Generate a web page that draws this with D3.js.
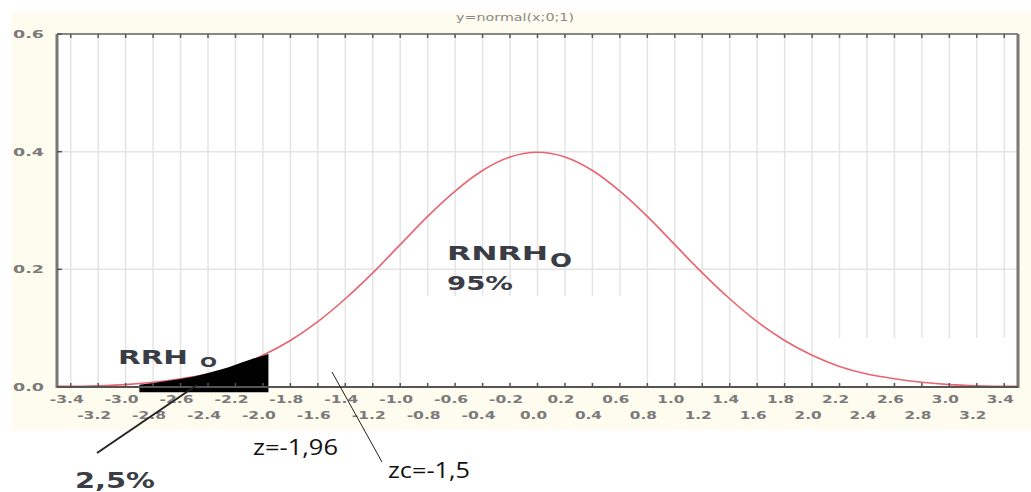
<!DOCTYPE html>
<html lang="en">
<head>
<meta charset="UTF-8">
<title>y=normal(x;0;1)</title>
<script src="https://cdn.jsdelivr.net/npm/d3@7"></script>
<style>
  body { margin: 0; background: #fff; }
  svg { display: block; }
</style>
</head>
<body>
<div id="chart"></div>
<script>
// values
const curveX = [-3.5, -3.4, -3.2, -3.0, -2.8, -2.6, -2.4, -2.2, -2.0, -1.8, -1.6, -1.4, -1.2, -1.0, -0.8, -0.6, -0.4, -0.2, 0,
                0.2, 0.4, 0.6, 0.8, 1.0, 1.2, 1.4, 1.6, 1.8, 2.0, 2.2, 2.4, 2.6, 2.8, 3.0, 3.2, 3.4, 3.5];
const curveY = [0.001, 0.001, 0.002, 0.004, 0.008, 0.014, 0.022, 0.035, 0.054, 0.079, 0.111, 0.150, 0.194, 0.242, 0.290, 0.333, 0.368, 0.391, 0.399,
                0.391, 0.368, 0.333, 0.290, 0.242, 0.194, 0.150, 0.111, 0.079, 0.054, 0.035, 0.022, 0.014, 0.008, 0.004, 0.002, 0.001, 0.001];
// the blackened left tail (rejection region)
const tailX = [-2.9, -2.7, -2.5, -2.3, -2.1, -1.96];
const tailY = [0.004, 0.010, 0.018, 0.030, 0.046, 0.056];
const xTicks = [-3.4, -3.2, -3.0, -2.8, -2.6, -2.4, -2.2, -2.0, -1.8, -1.6, -1.4, -1.2, -1.0, -0.8, -0.6, -0.4, -0.2, 0,
                0.2, 0.4, 0.6, 0.8, 1.0, 1.2, 1.4, 1.6, 1.8, 2.0, 2.2, 2.4, 2.6, 2.8, 3.0, 3.2, 3.4];
const yTicks = [0.0, 0.2, 0.4, 0.6];

const width = 1031, height = 492;
const svg = d3.select("#chart").append("svg")
    .attr("width", width)
    .attr("height", height);

const x = d3.scaleLinear().domain([-3.5, 3.5]).range([57, 1018]);
const y = d3.scaleLinear().domain([0, 0.6]).range([387, 34]);

// cream frame behind the plot
svg.append("rect")
    .attr("x", 12).attr("y", 12)
    .attr("width", width - 12).attr("height", 418)
    .attr("fill", "#fefbef");

svg.append("rect")
    .attr("x", x(-3.5)).attr("y", y(0.6))
    .attr("width", x(3.5) - x(-3.5)).attr("height", y(0) - y(0.6))
    .attr("fill", "#fff");

// grid
svg.append("g")
    .selectAll("line")
    .data(xTicks)
    .join("line")
    .attr("x1", d => x(d)).attr("x2", d => x(d))
    .attr("y1", y(0.6)).attr("y2", y(0))
    .attr("stroke", "#e4e4e4")
    .attr("stroke-width", 1.5);

svg.append("g")
    .selectAll("line")
    .data([0.2, 0.4])
    .join("line")
    .attr("x1", x(-3.5)).attr("x2", x(3.5))
    .attr("y1", d => y(d)).attr("y2", d => y(d))
    .attr("stroke", "#e4e4e4")
    .attr("stroke-width", 1.5);

// erased patches of the edited picture
const patches = [[425, 296, 220, 86], [822, 338, 190, 46]];
svg.append("g")
    .selectAll("rect")
    .data(patches)
    .join("rect")
    .attr("x", d => d[0]).attr("y", d => d[1])
    .attr("width", d => d[2]).attr("height", d => d[3])
    .attr("fill", "#fff");

// curve
const line = d3.line()
    .x((d, i) => x(curveX[i]))
    .y(d => y(d))
    .curve(d3.curveMonotoneX);

svg.append("path")
    .datum(curveY)
    .attr("d", line)
    .attr("fill", "none")
    .attr("stroke", "#e8646e")
    .attr("stroke-width", 1.6);

// black tail
const area = d3.area()
    .x((d, i) => x(tailX[i]))
    .y0(y(-0.009))
    .y1(d => y(d))
    .curve(d3.curveMonotoneX);

svg.append("path")
    .datum(tailY)
    .attr("d", area)
    .attr("fill", "#000");

// frame
const frame = svg.append("g").attr("fill", "none");
frame.append("line")
    .attr("x1", x(-3.5)).attr("x2", x(3.5))
    .attr("y1", y(0.6)).attr("y2", y(0.6))
    .attr("stroke", "#888").attr("stroke-width", 2);
frame.append("line")
    .attr("x1", x(-3.5)).attr("x2", x(-3.5))
    .attr("y1", y(0.6)).attr("y2", y(0) + 1)
    .attr("stroke", "#777").attr("stroke-width", 3);
frame.append("line")
    .attr("x1", x(3.5)).attr("x2", x(3.5))
    .attr("y1", y(0.6)).attr("y2", y(0) + 1)
    .attr("stroke", "#777").attr("stroke-width", 3);
frame.append("line")
    .attr("x1", x(-3.5)).attr("x2", x(3.5))
    .attr("y1", y(0)).attr("y2", y(0))
    .attr("stroke", "#555").attr("stroke-width", 2);

// tick marks on top and bottom
svg.append("g")
    .selectAll("line")
    .data(xTicks)
    .join("line")
    .attr("x1", d => x(d)).attr("x2", d => x(d))
    .attr("y1", y(0.6)).attr("y2", y(0.6) + 4)
    .attr("stroke", "#555").attr("stroke-width", 1.5);
svg.append("g")
    .selectAll("line")
    .data(xTicks)
    .join("line")
    .attr("x1", d => x(d)).attr("x2", d => x(d))
    .attr("y1", y(0)).attr("y2", y(0) - 4)
    .attr("stroke", "#555").attr("stroke-width", 1.5);
svg.append("g")
    .selectAll("line")
    .data(yTicks)
    .join("line")
    .attr("x1", x(-3.5)).attr("x2", x(-3.5) + 5)
    .attr("y1", d => y(d)).attr("y2", d => y(d))
    .attr("stroke", "#555").attr("stroke-width", 1.5);

// axis labels, staggered on two rows
const fmt = d3.format(".1f");
svg.append("g")
    .attr("font-family", "DejaVu Sans")
    .attr("font-size", 11)
    .attr("font-weight", "bold")
    .attr("fill", "#7a7a7a")
    .selectAll("text")
    .data(xTicks)
    .join("text")
    .attr("x", d => x(d) - 4)
    .attr("y", (d, i) => i % 2 === 0 ? 403 : 419)
    .attr("text-anchor", "middle")
    .attr("textLength", d => d < 0 ? 34 : 27)
    .attr("lengthAdjust", "spacingAndGlyphs")
    .text(d => fmt(d).replace("−", "-"));

svg.append("g")
    .attr("font-family", "DejaVu Sans")
    .attr("font-size", 11)
    .attr("font-weight", "bold")
    .attr("fill", "#7a7a7a")
    .selectAll("text")
    .data(yTicks)
    .join("text")
    .attr("x", 44)
    .attr("y", d => y(d) + 4)
    .attr("text-anchor", "end")
    .attr("textLength", 31)
    .attr("lengthAdjust", "spacingAndGlyphs")
    .text(d => fmt(d));

svg.append("text")
    .attr("x", 515).attr("y", 21)
    .attr("text-anchor", "middle")
    .attr("font-family", "DejaVu Sans")
    .attr("font-size", 11)
    .attr("fill", "#8a8a8a")
    .attr("textLength", 118)
    .attr("lengthAdjust", "spacingAndGlyphs")
    .text("y=normal(x;0;1)");

// annotations
const ann = svg.append("g").attr("fill", "#3a3d45");

function boldText(t, px, py, size, len) {
    ann.append("text")
        .attr("x", px).attr("y", py)
        .attr("font-family", "DejaVu Sans")
        .attr("font-weight", "bold")
        .attr("font-size", size)
        .attr("textLength", len)
        .attr("lengthAdjust", "spacingAndGlyphs")
        .text(t);
}
boldText("RNRH", 447, 260, 20, 101);
boldText("O", 550, 267, 19, 22);
boldText("95%", 447, 290, 20, 66);
boldText("RRH", 118, 364, 19, 70);
boldText("O", 200, 367, 14, 17);
boldText("2,5%", 75, 488, 22, 80);

function plainText(t, px, py, len) {
    ann.append("text")
        .attr("x", px).attr("y", py)
        .attr("font-family", "Open Sans")
        .attr("font-size", 22)
        .attr("fill", "#111")
        .attr("textLength", len)
        .attr("lengthAdjust", "spacingAndGlyphs")
        .text(t);
}
plainText("z=-1,96", 253, 455, 85);
plainText("zc=-1,5", 388, 478, 82);

svg.append("line")
    .attr("x1", 97).attr("y1", 453)
    .attr("x2", 197).attr("y2", 385)
    .attr("stroke", "#222").attr("stroke-width", 2);
svg.append("line")
    .attr("x1", 332).attr("y1", 372)
    .attr("x2", 382).attr("y2", 462)
    .attr("stroke", "#222").attr("stroke-width", 1);
</script>
</body>
</html>
